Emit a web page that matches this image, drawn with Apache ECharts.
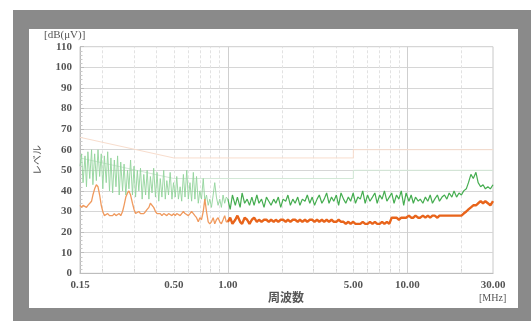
<!DOCTYPE html>
<html><head><meta charset="utf-8">
<script src="https://cdn.jsdelivr.net/npm/echarts@6/dist/echarts.min.js"></script>
<style>html,body{margin:0;padding:0;background:#fff;}#c{width:531px;height:321px;}</style>
</head><body><div id="c"></div>
<script>
// Frequencies (MHz)
const freqLow = [
  0.150, 0.153, 0.156, 0.160, 0.163, 0.166, 0.170, 0.174, 0.177, 0.181,
  0.185, 0.189, 0.193, 0.197, 0.201, 0.205, 0.210, 0.214, 0.219, 0.223,
  0.228, 0.233, 0.238, 0.243, 0.248, 0.253, 0.259, 0.264, 0.270, 0.276,
  0.281, 0.287, 0.294, 0.300, 0.306, 0.313, 0.319, 0.326, 0.333, 0.340,
  0.348, 0.355, 0.363, 0.370, 0.378, 0.386, 0.395, 0.403, 0.412, 0.420,
  0.429, 0.439, 0.448, 0.457, 0.467, 0.477, 0.488, 0.498, 0.509, 0.519,
  0.530, 0.542, 0.553, 0.565, 0.577, 0.590, 0.602, 0.615, 0.628, 0.642,
  0.655, 0.669, 0.684, 0.698, 0.713, 0.729, 0.744, 0.760, 0.777, 0.793,
  0.810, 0.828, 0.845, 0.863, 0.882, 0.901, 0.920, 0.940, 0.960, 0.980
];
const freqHigh = [
  1.00, 1.03, 1.06, 1.10, 1.13, 1.17, 1.20, 1.24, 1.28, 1.32,
  1.36, 1.40, 1.45, 1.49, 1.54, 1.59, 1.64, 1.69, 1.74, 1.80,
  1.85, 1.91, 1.97, 2.03, 2.10, 2.16, 2.23, 2.30, 2.37, 2.45,
  2.52, 2.60, 2.69, 2.77, 2.86, 2.95, 3.04, 3.14, 3.23, 3.34,
  3.44, 3.55, 3.66, 3.78, 3.89, 4.02, 4.14, 4.27, 4.41, 4.54,
  4.69, 4.83, 4.99, 5.14, 5.30, 5.47, 5.64, 5.82, 6.00, 6.19,
  6.39, 6.59, 6.79, 7.01, 7.23, 7.45, 7.69, 7.93, 8.18, 8.43,
  8.70, 8.97, 9.25, 9.54, 9.84, 10.2, 10.5, 10.8, 11.1, 11.5,
  11.8, 12.2, 12.6, 13.0, 13.4, 13.8, 14.2, 14.7, 15.1, 15.6,
  16.1, 16.6, 17.1, 17.7, 18.2, 18.8, 19.4, 20.0, 20.6, 21.3,
  21.9, 22.6, 23.3, 24.1, 24.8, 25.6, 26.4, 27.2, 28.1, 29.0,
  30.0
];
// Green trace (dBμV)
const greenLow = [
  52, 58, 44, 57, 42, 59, 46, 60, 43, 58,
  45, 60, 47, 58, 41, 57, 44, 59, 40, 56,
  39, 55, 42, 57, 38, 54, 40, 53, 38, 50,
  41, 55, 38, 52, 37, 50, 40, 51, 36, 48,
  38, 50, 36, 47, 39, 51, 37, 49, 35, 46,
  37, 50, 36, 45, 38, 49, 36, 44, 37, 47,
  36, 42, 35, 48, 37, 50, 36, 44, 35, 49,
  36, 47, 34, 40, 36, 46, 35, 38, 33, 36,
  32, 38, 44, 37, 33, 36, 32, 38, 34, 37
];
const greenHigh = [
  36, 31, 38, 33, 37, 32, 39, 34, 36, 33,
  37, 33, 38, 34, 36, 32, 37, 35, 33, 36,
  34, 37, 32, 36, 35, 38, 33, 36, 34, 37,
  33, 36, 35, 38, 34, 37, 33, 36, 38, 34,
  36, 39, 34, 37, 35, 38, 33, 39, 36, 34,
  37, 35, 39, 34, 37, 36, 40, 34, 38, 35,
  37, 39, 34, 38, 36, 40, 35, 37, 39, 34,
  38, 36, 40, 33, 39, 35, 38, 34, 37, 35,
  36, 34, 37, 35, 38, 34, 36, 38, 35, 37,
  38, 36, 39, 37, 40, 37, 39, 38, 40, 41,
  44, 48, 46, 49, 44, 42, 43, 41, 42, 41,
  43
];
// Orange trace (dBμV)
const orangeLow = [
  33, 32, 33, 33, 32, 33, 34, 35, 38, 41,
  43, 42, 38, 33, 30, 28, 28, 29, 28, 28,
  28, 29, 28, 28, 29, 28, 30, 33, 37, 39,
  40, 38, 34, 31, 29, 29, 30, 29, 29, 29,
  30, 31, 32, 34, 34, 32, 30, 29, 29, 29,
  28, 29, 29, 28, 29, 29, 28, 29, 28, 29,
  29, 28, 29, 30, 29, 29, 28, 29, 30, 29,
  28, 27, 25, 27, 26, 30, 36, 30, 25, 24,
  25, 27, 24, 26, 27, 25, 24, 26, 28, 25
];
const orangeHigh = [
  25, 27, 24, 26, 28, 25, 24, 27, 26, 24,
  26, 27, 25, 26, 25, 26, 26, 25, 26, 25,
  26, 25, 26, 26, 25, 26, 25, 26, 26, 25,
  26, 25, 26, 25, 26, 26, 25, 26, 25, 26,
  25, 26, 25, 26, 25, 25, 26, 25, 25, 24,
  25, 24, 25, 24, 24, 24, 25, 24, 24, 25,
  24, 25, 24, 24, 25, 24, 25, 24, 27, 27,
  27, 26, 27, 27, 27, 28, 27, 27, 28, 27,
  27, 28, 27, 28, 27, 28, 28, 27, 28, 28,
  28, 28, 28, 28, 28, 28, 28, 28, 29, 30,
  31, 32, 33, 33, 34, 35, 34, 35, 34, 33,
  35
];
// Limit lines
const qpLimitFreq = [0.15, 0.5, 5, 5, 30];
const qpLimitVal  = [66, 56, 56, 60, 60];
const avLimitFreq = [0.15, 0.5, 5, 5, 30];
const avLimitVal  = [56, 46, 46, 50, 50];
// Axis ticks
const xTickLabels = [0.15, 0.5, 1, 5, 10, 30];
const xMinorGrid = [0.2, 0.3, 0.4, 0.5, 0.6, 0.7, 0.8, 0.9, 2, 3, 4, 5, 6, 7, 8, 9, 20];
const xMajorGrid = [1, 10];
const yMin = 0, yMax = 110, yStep = 10;

const zip = (fs, vs) => fs.map((f, i) => [f, vs[i]]);
const greenLowData = zip(freqLow, greenLow).concat([[freqHigh[0], greenHigh[0]]]);
const greenHighData = zip(freqHigh, greenHigh);
const orangeLowData = zip(freqLow, orangeLow).concat([[freqHigh[0], orangeHigh[0]]]);
const orangeHighData = zip(freqHigh, orangeHigh);

const serif = '"Liberation Serif","DejaVu Serif",serif';
const chart = echarts.init(document.getElementById('c'), null, {renderer: 'canvas'});
chart.setOption({
  animation: false,
  backgroundColor: '#ffffff',
  graphic: [
    {type: 'rect', z: -10, shape: {x: 13, y: 10, width: 518, height: 311}, style: {fill: '#8a8a8a'}, silent: true},
    {type: 'rect', z: -9, shape: {x: 29, y: 29, width: 489, height: 279}, style: {fill: '#ffffff'}, silent: true},
    {type: 'text', left: 44, top: 30, style: {text: '[dB(μV)]', font: '11px ' + serif, fill: '#555'}},
    {type: 'text', left: 268, top: 291, style: {text: '周波数', font: 'bold 12px "Noto Sans CJK JP",sans-serif', fill: '#555'}},
    {type: 'text', left: 479, top: 293, style: {text: '[MHz]', font: '10px ' + serif, fill: '#555'}}
  ],
  grid: {left: 80, right: 38, top: 46.7, bottom: 47.7, show: true, borderColor: '#c8c8c8', borderWidth: 1, backgroundColor: 'transparent'},
  xAxis: {
    type: 'log', logBase: 10, min: 0.15, max: 30,
    axisLine: {show: true, lineStyle: {color: '#bdbdbd'}},
    axisTick: {show: true, inside: true, length: 4, lineStyle: {color: '#bdbdbd'},
      customValues: xMinorGrid.concat(xMajorGrid)},
    axisLabel: {show: true, customValues: xTickLabels, margin: 6,
      formatter: v => Number(v).toFixed(2),
      fontFamily: serif, fontWeight: 'bold', fontSize: 11, color: '#555'},
    splitLine: {show: false}, minorTick: {show: false}
  },
  yAxis: {
    type: 'value', min: yMin, max: yMax, interval: yStep,
    name: 'レベル', nameLocation: 'middle', nameGap: 38, nameRotate: 90,
    nameTextStyle: {fontFamily: '"Noto Sans CJK JP",sans-serif', fontSize: 10, color: '#555'},
    axisLine: {show: true, lineStyle: {color: '#bdbdbd'}},
    axisTick: {show: true, inside: true, length: 4, lineStyle: {color: '#bdbdbd'}},
    minorTick: {show: true, splitNumber: 5, length: 2.5, lineStyle: {color: '#c8c8c8'}},
    axisLabel: {margin: 8, fontFamily: serif, fontWeight: 'bold', fontSize: 11, color: '#555'},
    splitLine: {show: true, lineStyle: {color: '#d6d6d6', width: 1}}
  },
  series: [
    {type: 'line', name: 'qp', data: zip(qpLimitFreq, qpLimitVal), symbol: 'none', z: 2, silent: true,
      lineStyle: {color: '#f8ddcd', width: 1},
      markLine: {silent: true, symbol: ['none', 'none'], label: {show: false}, z: 1,
        lineStyle: {color: '#e2e2e2', type: [3, 2], width: 1},
        emphasis: {disabled: true},
        data: xMinorGrid.map(v => ({xAxis: v}))}},
    {type: 'line', name: 'av', data: zip(avLimitFreq, avLimitVal), symbol: 'none', z: 2, silent: true,
      lineStyle: {color: '#d2e8d6', width: 1},
      markLine: {silent: true, symbol: ['none', 'none'], label: {show: false}, z: 1,
        lineStyle: {color: '#cfcfcf', type: 'solid', width: 1},
        emphasis: {disabled: true},
        data: xMajorGrid.map(v => ({xAxis: v}))}},
    {type: 'line', name: 'gLow', data: greenLowData, symbol: 'none', z: 3, silent: true,
      lineStyle: {color: '#92d49b', width: 0.9}},
    {type: 'line', name: 'gHigh', data: greenHighData, symbol: 'none', z: 3, silent: true,
      lineStyle: {color: '#45ad50', width: 1.2}},
    {type: 'line', name: 'oLow', data: orangeLowData, symbol: 'none', z: 4, silent: true,
      lineStyle: {color: '#f09a5e', width: 1.3}},
    {type: 'line', name: 'oHigh', data: orangeHighData, symbol: 'none', z: 4, silent: true,
      lineStyle: {color: '#e8641b', width: 2.4}}
  ]
});
</script></body></html>
